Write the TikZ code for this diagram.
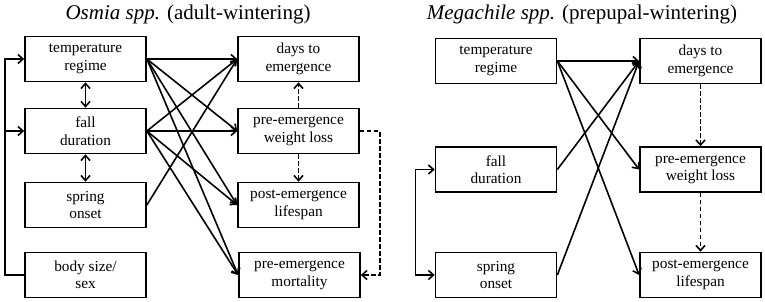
\documentclass[tikz,border=0pt]{standalone}
\usepackage{fontspec}
\setmainfont{Liberation Serif}
\usetikzlibrary{arrows.meta, positioning}

\tikzset{
    var/.style={draw, line width=1.7pt, minimum width=121pt, minimum height=45pt,
        align=center, inner sep=2pt, font=\fontsize{15.3}{17.5}\selectfont},
    link/.style={line width=1.6pt, -{Straight Barb[length=5pt,width=9pt]}},
    both/.style={line width=1.6pt, {Straight Barb[length=5pt,width=9pt]}-{Straight Barb[length=5pt,width=9pt]}},
    dlink/.style={link, dashed, dash pattern=on 4.5pt off 2.5pt},
    ttl/.style={font=\fontsize{21}{24}\selectfont}
}

\begin{document}
\begin{tikzpicture}[x=1pt, y=-1pt]
    \useasboundingbox (0,0) rectangle (765,302);

    % Titles
    \node[ttl] (ttlA) at (188,14) {\textit{Osmia spp.} (adult-wintering)};
    \node[ttl] (ttlB) at (582,14) {\textit{Megachile spp.} (prepupal-wintering)};

    % Osmia: predictors
    \node[var] (tempA) at (85.5,59)  {temperature\\regime};
    \node[var] (fallA) at (85.5,131) {fall\\duration};
    \node[var] (sprA)  at (85.5,205) {spring\\onset};
    \node[var] (bodyA) at (85.5,275) {body size/\\sex};

    % Osmia: responses
    \node[var] (daysA) at (298.5,59)  {days to\\emergence};
    \node[var] (wgtA)  at (298.5,131) {pre-emergence\\weight loss};
    \node[var] (lifeA) at (298.5,205) {post-emergence\\lifespan};
    \node[var] (mortA) at (299.5,275) {pre-emergence\\mortality};

    % Osmia: links among predictors
    \draw[both] (tempA) -- (fallA);
    \draw[both] (fallA) -- (sprA);
    \coordinate (cornA) at (5,275);
    \draw[link] (bodyA.west) -- (cornA) |- (tempA.west);
    \draw[link] (cornA |- fallA.west) -- (fallA.west);

    % Osmia: effects
    \foreach \src in {tempA,fallA}
        \foreach \dst in {daysA,wgtA,lifeA,mortA}
            \draw[link] (\src.east) -- (\dst.west);
    \draw[link] (sprA.east) -- (daysA.west);

    % Osmia: dashed links among responses
    \draw[dlink] (wgtA) -- (daysA);
    \draw[dlink] (wgtA) -- (lifeA);
    \draw[dlink] (wgtA.east) -- ++(20,0) |- (mortA.east);

    % Megachile: predictors
    \node[var] (tempB) at (496,61)    {temperature\\regime};
    \node[var] (fallB) at (496,169.5) {fall\\duration};
    \node[var] (sprB)  at (496,275)   {spring\\onset};

    % Megachile: responses
    \node[var] (daysB) at (700.5,61)    {days to\\emergence};
    \node[var] (wgtB)  at (700.5,169.5) {pre-emergence\\weight loss};
    \node[var] (lifeB) at (700.5,275)   {post-emergence\\lifespan};

    % Megachile: links
    \draw[both] (fallB.west) -- ++(-19,0) |- (sprB.west);
    \foreach \dst in {daysB,wgtB,lifeB}
        \draw[link] (tempB.east) -- (\dst.west);
    \draw[link] (fallB.east) -- (daysB.west);
    \draw[link] (sprB.east) -- (daysB.west);
    \draw[dlink] (daysB) -- (wgtB);
    \draw[dlink] (wgtB) -- (lifeB);
\end{tikzpicture}
\end{document}
